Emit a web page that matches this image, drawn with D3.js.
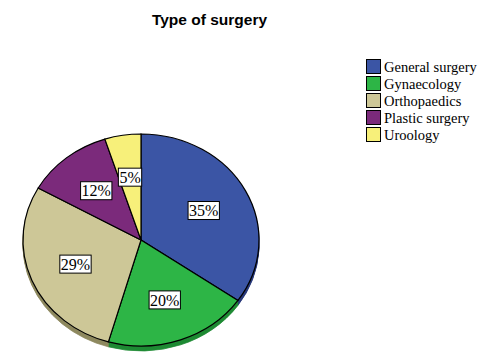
<!DOCTYPE html>
<html><head><meta charset="utf-8">
<script src="https://cdn.jsdelivr.net/npm/d3@7"></script>
<style>body{margin:0;background:#fff}svg{display:block}</style>
</head><body>
<svg id="chart" width="490" height="360"></svg>
<script>
const categories = ["General surgery","Gynaecology","Orthopaedics","Plastic surgery","Uroology"];
const percents = [35, 20, 29, 12, 5];
const colors = ["#3b55a5","#2db546","#cdc797","#7b2a7b","#f7f07a"];
const sideColors = ["#28397a","#1e8a33","#8e895f","#551c55","#b0aa50"];
const title = "Type of surgery";

(function(){
const svg = d3.select("#chart");
const cx = 141, cy = 240, rx = 118, ry = 106, depth = 5;

svg.append("text").attr("x", 209.5).attr("y", 25).attr("text-anchor","middle")
  .attr("font-family","Liberation Sans, Arial, sans-serif").attr("font-weight","bold")
  .attr("font-size","15.5px").attr("fill","#000").text(title);

const data = categories.map((c,i)=>({cat:c, value:percents[i], color:colors[i], side:sideColors[i]}));
const pie = d3.pie().sort(null).value(d=>d.value);
const arcs = pie(data);
const arc = d3.arc().innerRadius(0).outerRadius(rx);
const sy = ry/rx;

for (let k=depth;k>=1;k--){
  const g = svg.append("g").attr("transform",`translate(${cx},${cy+k}) scale(1,${sy})`);
  g.selectAll("path").data(arcs).join("path").attr("d", arc).attr("fill", d=>d.data.side)
    .attr("stroke", d=>d.data.side).attr("stroke-width",0.8).attr("vector-effect","non-scaling-stroke");
}
const topFace = svg.append("g").attr("transform",`translate(${cx},${cy}) scale(1,${sy})`);
topFace.selectAll("path").data(arcs).join("path")
  .attr("d", arc).attr("fill", d=>d.data.color)
  .attr("stroke","#000").attr("stroke-width",1.2).attr("vector-effect","non-scaling-stroke");

const lab = d3.arc().innerRadius(rx*0.6).outerRadius(rx*0.6);
const lg = svg.append("g");
arcs.forEach(a=>{
  const [x,y] = lab.centroid(a);
  const px = cx + x, py = cy + y*sy;
  const g = lg.append("g").attr("transform",`translate(${px},${py})`);
  const t = g.append("text").attr("text-anchor","middle").attr("dy","0.35em")
    .attr("font-family","Liberation Serif, Times New Roman, serif").attr("font-size","16px")
    .attr("fill","#000").text(a.data.value + "%");
  const bb = t.node().getBBox();
  g.insert("rect","text").attr("x", bb.x-1).attr("y", -9).attr("width", bb.width+2).attr("height",18)
    .attr("fill","#fff").attr("stroke","#000").attr("stroke-width",1);
});

const leg = svg.append("g").attr("transform","translate(366,59)");
const rows = leg.selectAll("g").data(data).join("g").attr("transform",(d,i)=>`translate(0,${i*17})`);
rows.append("rect").attr("x",0.5).attr("y",0.5).attr("width",14).attr("height",14)
  .attr("fill",d=>d.color).attr("stroke","#000").attr("stroke-width",1);
rows.append("text").attr("x",18).attr("y",12.5)
  .attr("font-family","Liberation Serif, Times New Roman, serif").attr("font-size","14.5px")
  .attr("fill","#000").text(d=>d.cat);
})();
</script>
</body></html>
